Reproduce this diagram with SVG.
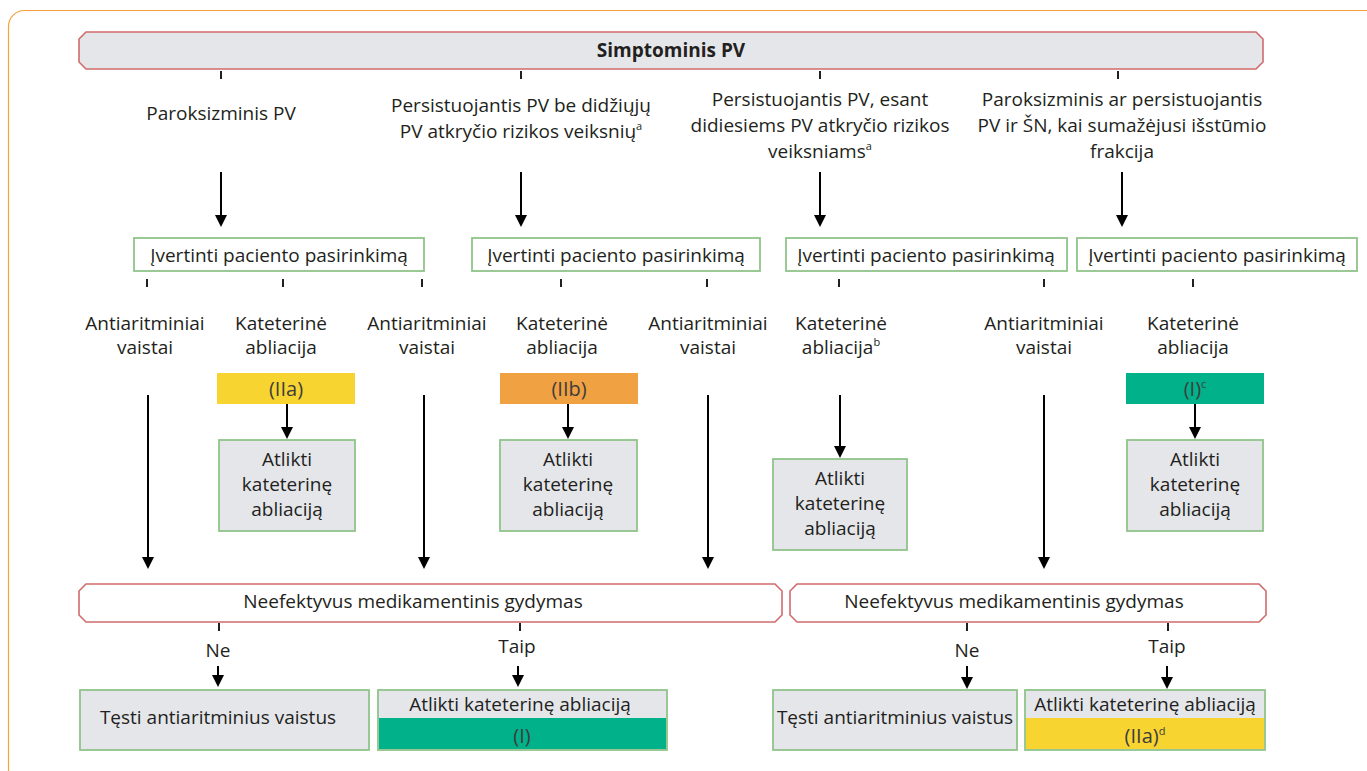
<svg xmlns="http://www.w3.org/2000/svg" width="1367" height="771" viewBox="0 0 1367 771">
  <style>
    text { font-family: "Open Sans", "Noto Sans", "DejaVu Sans", sans-serif; font-size: 19px; fill: #231f20; }
    .c { text-anchor: middle; }
    .b { font-weight: bold; }
    .sup { font-size: 11px; }
    .badge-t { fill: #3d3d3d; font-size: 20px; }
    .banner { fill: #e5e6ea; stroke: #cf6b6b; stroke-width: 1.6; }
    .banner-w { fill: #ffffff; stroke: #cf6b6b; stroke-width: 1.6; }
    .eval { fill: #ffffff; stroke: #8fc48b; stroke-width: 1.8; }
    .act { fill: #e5e6ea; stroke: #8fc48b; stroke-width: 1.8; }
    .tick { stroke: #231f20; stroke-width: 2; }
    .arr { stroke: #000000; stroke-width: 2; fill: none; marker-end: url(#ah); }
  </style>
  <defs>
    <marker id="ah" viewBox="0 0 12 12" refX="0" refY="6" markerWidth="12" markerHeight="12" markerUnits="userSpaceOnUse" orient="auto">
      <path d="M0,0 L12,6 L0,12 z" fill="#000000"/>
    </marker>
  </defs>

  <!-- outer frame -->
  <rect x="8.5" y="10.5" width="1400" height="775" rx="16" fill="none" stroke="#f5a33a" stroke-width="1.2"/>

  <!-- top banner -->
  <g id="simptominis">
    <polygon class="banner" points="86,32 1256,32 1263,39 1263,62 1256,69 86,69 79,62 79,39"/>
    <text class="c b" x="671" y="57">Simptominis PV</text>
  </g>

  <!-- AF type labels -->
  <g id="tipas-1">
    <text class="c" x="221" y="120">Paroksizminis PV</text>
  </g>
  <g id="tipas-2">
    <text class="c" x="521" y="112">Persistuojantis PV be didžiųjų</text>
    <text class="c" x="521" y="138">PV atkryčio rizikos veiksnių<tspan class="sup" dy="-8">a</tspan></text>
  </g>
  <g id="tipas-3">
    <text class="c" x="820" y="106">Persistuojantis PV, esant</text>
    <text class="c" x="820" y="132">didiesiems PV atkryčio rizikos</text>
    <text class="c" x="820" y="158">veiksniams<tspan class="sup" dy="-8">a</tspan></text>
  </g>
  <g id="tipas-4">
    <text class="c" x="1122" y="106">Paroksizminis ar persistuojantis</text>
    <text class="c" x="1122" y="132">PV ir ŠN, kai sumažėjusi išstūmio</text>
    <text class="c" x="1122" y="158">frakcija</text>
  </g>

  <!-- patient preference boxes -->
  <g id="ivertinti-1">
    <rect class="eval" x="134" y="238" width="290" height="33"/>
    <text class="c" x="279" y="262">Įvertinti paciento pasirinkimą</text>
  </g>
  <g id="ivertinti-2">
    <rect class="eval" x="472" y="238" width="288" height="33"/>
    <text class="c" x="616" y="262">Įvertinti paciento pasirinkimą</text>
  </g>
  <g id="ivertinti-3">
    <rect class="eval" x="786" y="238" width="281" height="33"/>
    <text class="c" x="926" y="262">Įvertinti paciento pasirinkimą</text>
  </g>
  <g id="ivertinti-4">
    <rect class="eval" x="1077" y="238" width="280" height="33"/>
    <text class="c" x="1217" y="262">Įvertinti paciento pasirinkimą</text>
  </g>

  <!-- treatment options -->
  <g id="vaistai-1">
    <text class="c" x="145" y="330">Antiaritminiai</text>
    <text class="c" x="145" y="354">vaistai</text>
  </g>
  <g id="abliacija-1">
    <text class="c" x="281" y="330">Kateterinė</text>
    <text class="c" x="281" y="354">abliacija</text>
  </g>
  <g id="vaistai-2">
    <text class="c" x="427" y="330">Antiaritminiai</text>
    <text class="c" x="427" y="354">vaistai</text>
  </g>
  <g id="abliacija-2">
    <text class="c" x="562" y="330">Kateterinė</text>
    <text class="c" x="562" y="354">abliacija</text>
  </g>
  <g id="vaistai-3">
    <text class="c" x="708" y="330">Antiaritminiai</text>
    <text class="c" x="708" y="354">vaistai</text>
  </g>
  <g id="abliacija-3">
    <text class="c" x="841" y="330">Kateterinė</text>
    <text class="c" x="841" y="354">abliacija<tspan class="sup" dy="-8">b</tspan></text>
  </g>
  <g id="vaistai-4">
    <text class="c" x="1044" y="330">Antiaritminiai</text>
    <text class="c" x="1044" y="354">vaistai</text>
  </g>
  <g id="abliacija-4">
    <text class="c" x="1193" y="330">Kateterinė</text>
    <text class="c" x="1193" y="354">abliacija</text>
  </g>

  <!-- recommendation class badges -->
  <g id="klase-IIa">
    <rect x="217" y="373" width="138" height="31" fill="#f8d431"/>
    <text class="c badge-t" x="286" y="396">(IIa)</text>
  </g>
  <g id="klase-IIb">
    <rect x="500" y="373" width="138" height="31" fill="#f0a142"/>
    <text class="c badge-t" x="569" y="396">(IIb)</text>
  </g>
  <g id="klase-I">
    <rect x="1126" y="373" width="138" height="31" fill="#00b189"/>
    <text class="c badge-t" x="1195" y="396">(I)<tspan class="sup" dy="-8">c</tspan></text>
  </g>

  <!-- ablation boxes -->
  <g id="atlikti-1">
    <rect class="act" x="219" y="440" width="136" height="91"/>
    <text class="c" x="287" y="466">Atlikti</text>
    <text class="c" x="287" y="491">kateterinę</text>
    <text class="c" x="287" y="516">abliaciją</text>
  </g>
  <g id="atlikti-2">
    <rect class="act" x="500" y="440" width="137" height="91"/>
    <text class="c" x="568" y="466">Atlikti</text>
    <text class="c" x="568" y="491">kateterinę</text>
    <text class="c" x="568" y="516">abliaciją</text>
  </g>
  <g id="atlikti-3">
    <rect class="act" x="773" y="459" width="134" height="91"/>
    <text class="c" x="840" y="485">Atlikti</text>
    <text class="c" x="840" y="510">kateterinę</text>
    <text class="c" x="840" y="535">abliaciją</text>
  </g>
  <g id="atlikti-4">
    <rect class="act" x="1127" y="440" width="136" height="91"/>
    <text class="c" x="1195" y="466">Atlikti</text>
    <text class="c" x="1195" y="491">kateterinę</text>
    <text class="c" x="1195" y="516">abliaciją</text>
  </g>

  <!-- ineffective drug therapy banners -->
  <g id="neefektyvus-1">
    <polygon class="banner-w" points="86,584 775,584 782,591 782,615 775,622 86,622 79,615 79,591"/>
    <text class="c" x="413" y="608">Neefektyvus medikamentinis gydymas</text>
  </g>
  <g id="neefektyvus-2">
    <polygon class="banner-w" points="797,584 1259,584 1266,591 1266,615 1259,622 797,622 790,615 790,591"/>
    <text class="c" x="1014" y="608">Neefektyvus medikamentinis gydymas</text>
  </g>

  <!-- outcome boxes -->
  <g id="testi-1">
    <rect class="act" x="80" y="690" width="289" height="60"/>
    <text class="c" x="218" y="724">Tęsti antiaritminius vaistus</text>
  </g>
  <g id="abliacija-I">
    <rect class="act" x="378" y="690" width="289" height="60"/>
    <rect x="379" y="718" width="287" height="31" fill="#00b189"/>
    <text class="c" x="520" y="711">Atlikti kateterinę abliaciją</text>
    <text class="c badge-t" x="522" y="743">(I)</text>
  </g>
  <g id="testi-2">
    <rect class="act" x="773" y="690" width="244" height="60"/>
    <text class="c" x="895" y="724">Tęsti antiaritminius vaistus</text>
  </g>
  <g id="abliacija-IIa">
    <rect class="act" x="1025" y="690" width="240" height="60"/>
    <rect x="1026" y="718" width="238" height="31" fill="#f8d431"/>
    <text class="c" x="1145" y="711">Atlikti kateterinę abliaciją</text>
    <text class="c badge-t" x="1145" y="743">(IIa)<tspan class="sup" dy="-8">d</tspan></text>
  </g>

  <!-- connectors -->
  <g id="connectors">
    <!-- ticks under the top banner -->
    <line class="tick" x1="221" y1="71" x2="221" y2="79"/>
    <line class="tick" x1="521" y1="71" x2="521" y2="79"/>
    <line class="tick" x1="820" y1="71" x2="820" y2="79"/>
    <line class="tick" x1="1118" y1="71" x2="1118" y2="79"/>
    <!-- type label arrows -->
    <line class="arr" x1="221" y1="172" x2="221" y2="215"/>
    <line class="arr" x1="521" y1="172" x2="521" y2="215"/>
    <line class="arr" x1="820" y1="172" x2="820" y2="215"/>
    <line class="arr" x1="1122" y1="172" x2="1122" y2="215"/>
    <!-- ticks under preference boxes -->
    <line class="tick" x1="147" y1="279" x2="147" y2="287"/>
    <line class="tick" x1="283" y1="279" x2="283" y2="287"/>
    <line class="tick" x1="422" y1="279" x2="422" y2="287"/>
    <line class="tick" x1="561" y1="279" x2="561" y2="287"/>
    <line class="tick" x1="707" y1="279" x2="707" y2="287"/>
    <line class="tick" x1="839" y1="279" x2="839" y2="287"/>
    <line class="tick" x1="1044" y1="279" x2="1044" y2="287"/>
    <line class="tick" x1="1193" y1="279" x2="1193" y2="287"/>
    <!-- badge to ablation box arrows -->
    <line class="arr" x1="287" y1="404" x2="287" y2="427"/>
    <line class="arr" x1="568" y1="404" x2="568" y2="427"/>
    <line class="arr" x1="840" y1="395" x2="840" y2="446"/>
    <line class="arr" x1="1195" y1="404" x2="1195" y2="427"/>
    <!-- drug therapy arrows -->
    <line class="arr" x1="148" y1="395" x2="148" y2="557"/>
    <line class="arr" x1="424" y1="395" x2="424" y2="557"/>
    <line class="arr" x1="708" y1="395" x2="708" y2="557"/>
    <line class="arr" x1="1044" y1="395" x2="1044" y2="557"/>
    <!-- outcome branches -->
    <line class="tick" x1="219" y1="623" x2="219" y2="631"/>
    <line class="tick" x1="520" y1="623" x2="520" y2="631"/>
    <line class="tick" x1="967" y1="623" x2="967" y2="631"/>
    <line class="tick" x1="1168" y1="623" x2="1168" y2="631"/>
    <text class="c" x="218" y="657">Ne</text>
    <text class="c" x="517" y="653">Taip</text>
    <text class="c" x="967" y="657">Ne</text>
    <text class="c" x="1167" y="653">Taip</text>
    <line class="arr" x1="218" y1="666" x2="218" y2="675"/>
    <line class="arr" x1="518" y1="666" x2="518" y2="675"/>
    <line class="arr" x1="967" y1="666" x2="967" y2="677"/>
    <line class="arr" x1="1167" y1="666" x2="1167" y2="677"/>
  </g>
</svg>
